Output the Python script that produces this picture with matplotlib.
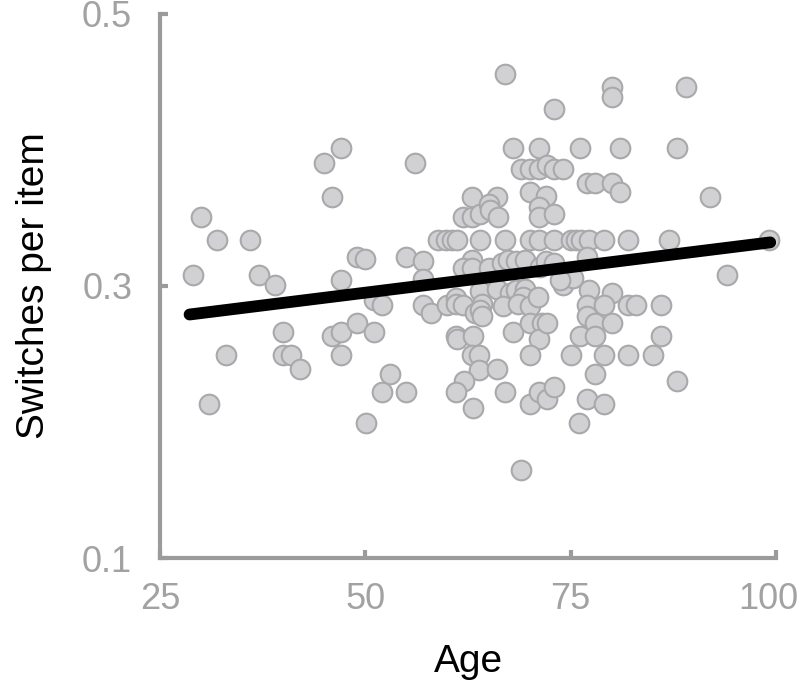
import matplotlib.pyplot as plt
from matplotlib.transforms import ScaledTranslation

# participant ages and switch rates
ages = [29.0, 30.0, 32.0, 36.0, 37.0, 39.0, 33.0, 31.0, 40.0, 40.0, 41.0, 42.0,
        45.0, 46.0, 47.0, 47.0, 46.0, 47.0, 47.0, 49.0, 50.0, 49.0, 51.0, 51.0, 52.0,
        53.0, 52.0, 55.0, 50.1, 55.0, 56.0, 57.0, 57.0, 57.0, 58.0,
        58.9, 59.8, 60.5, 61.1, 64.0, 60.0, 61.0, 61.0, 61.9, 63.3,
        61.0, 61.2, 63.1, 63.0, 63.8, 63.8, 62.0, 61.0, 63.1,
        63.0, 61.9, 63.0, 63.0, 61.9, 63.0,
        66.0, 70.0, 72.0, 64.0, 65.0, 65.2, 66.2, 71.1, 71.1, 73.0,
        67.0, 70.0, 71.1, 73.0, 75.0, 75.7, 76.3, 77.2, 79.0, 82.0, 87.0, 99.1,
        65.0, 66.6, 67.4, 68.4, 69.4, 71.3, 72.0, 73.0, 77.0,
        67.0, 80.0, 80.0, 89.0, 73.0, 68.0, 71.1, 76.1, 81.0, 88.0,
        69.0, 70.0, 71.1, 72.1, 73.0, 74.1, 77.0, 78.0, 80.0, 81.0, 92.0, 94.0,
        64.0, 64.2, 64.0, 64.2, 66.0, 67.6, 68.4, 69.4, 69.2, 66.8, 68.6, 70.0, 71.0,
        68.0, 70.0, 71.5, 71.1, 70.0, 66.0,
        74.1, 75.3, 73.7, 77.2, 80.0, 77.0, 79.0, 77.0, 78.0, 80.0, 82.0, 83.0, 86.0,
        72.1, 76.1, 78.0, 86.0, 75.0, 79.0, 82.0, 85.0,
        78.0, 88.0, 77.0, 79.0, 76.0, 69.0, 67.0, 70.0, 71.1, 72.1, 73.0]
switches = [0.308, 0.351, 0.334, 0.334, 0.308, 0.301, 0.249, 0.213, 0.266, 0.249, 0.249, 0.239,
            0.390, 0.365, 0.401, 0.304, 0.263, 0.266, 0.249, 0.321, 0.320, 0.273, 0.266, 0.290, 0.286,
            0.235, 0.222, 0.222, 0.199, 0.321, 0.390, 0.318, 0.305, 0.286, 0.280,
            0.334, 0.334, 0.334, 0.334, 0.334, 0.286, 0.291, 0.287, 0.286, 0.280,
            0.263, 0.261, 0.263, 0.249, 0.249, 0.238, 0.230, 0.222, 0.210,
            0.365, 0.351, 0.351, 0.319, 0.313, 0.313,
            0.365, 0.369, 0.366, 0.353, 0.360, 0.356, 0.351, 0.358, 0.351, 0.353,
            0.334, 0.334, 0.334, 0.334, 0.334, 0.334, 0.334, 0.334, 0.334, 0.334, 0.334, 0.334,
            0.313, 0.317, 0.319, 0.318, 0.319, 0.314, 0.318, 0.317, 0.321,
            0.456, 0.446, 0.439, 0.446, 0.430, 0.401, 0.401, 0.401, 0.401, 0.401,
            0.386, 0.386, 0.386, 0.389, 0.386, 0.386, 0.376, 0.376, 0.376, 0.369, 0.365, 0.308,
            0.296, 0.287, 0.282, 0.278, 0.298, 0.295, 0.297, 0.298, 0.292, 0.285, 0.287, 0.285, 0.292,
            0.266, 0.273, 0.273, 0.261, 0.249, 0.239,
            0.301, 0.306, 0.304, 0.297, 0.295, 0.286, 0.286, 0.278, 0.273, 0.273, 0.286, 0.286, 0.286,
            0.273, 0.263, 0.263, 0.263, 0.249, 0.249, 0.249, 0.249,
            0.235, 0.230, 0.217, 0.213, 0.199, 0.165, 0.222, 0.213, 0.222, 0.217, 0.226]

# regression line end points
fit_ages = [28.6, 99.3]
fit_vals = [0.279, 0.332]

x_ticks = [25, 50, 75, 100]
y_ticks = [0.1, 0.3, 0.5]
y_ticklabels = ['0.1', '0.3', '0.5']

grey = '#9b9b9d'

fig = plt.figure(figsize=(8, 6.89), dpi=100)
ax = fig.add_axes([0.2, 0.19, 0.77, 0.79])

ax.scatter(ages, switches, s=200, facecolor='#d1d1d3', edgecolor='#a9a9ab',
           linewidth=1.5, zorder=2, clip_on=False)
ax.plot(fit_ages, fit_vals, color='black', linewidth=8.5, solid_capstyle='round', zorder=3)

ax.set_xlim(25, 100)
ax.set_ylim(0.1, 0.5)
ax.set_xticks(x_ticks)
ax.set_yticks(y_ticks)
ax.set_yticklabels(y_ticklabels)

for side in ['top', 'right']:
    ax.spines[side].set_visible(False)
for side in ['left', 'bottom']:
    ax.spines[side].set_color(grey)
    ax.spines[side].set_linewidth(3)

ax.tick_params(direction='in', length=6, width=3, color=grey, labelcolor='#a2a2a4',
               labelsize=26)
ax.tick_params(axis='x', pad=17)
ax.tick_params(axis='y', pad=20)
for lab in ax.get_xticklabels() + ax.get_yticklabels():
    lab.set_family('Liberation Sans')

# the last x label sits a little left so it fits in the figure
last = ax.get_xticklabels()[-1]
last.set_transform(last.get_transform() + ScaledTranslation(-8 / 100, 0, fig.dpi_scale_trans))

ax.set_xlabel('Age', fontsize=28, family='Liberation Sans', labelpad=20)
ax.set_ylabel('Switches per item', fontsize=28, family='Liberation Sans', labelpad=22)

fig.savefig('out.png', dpi=100)
